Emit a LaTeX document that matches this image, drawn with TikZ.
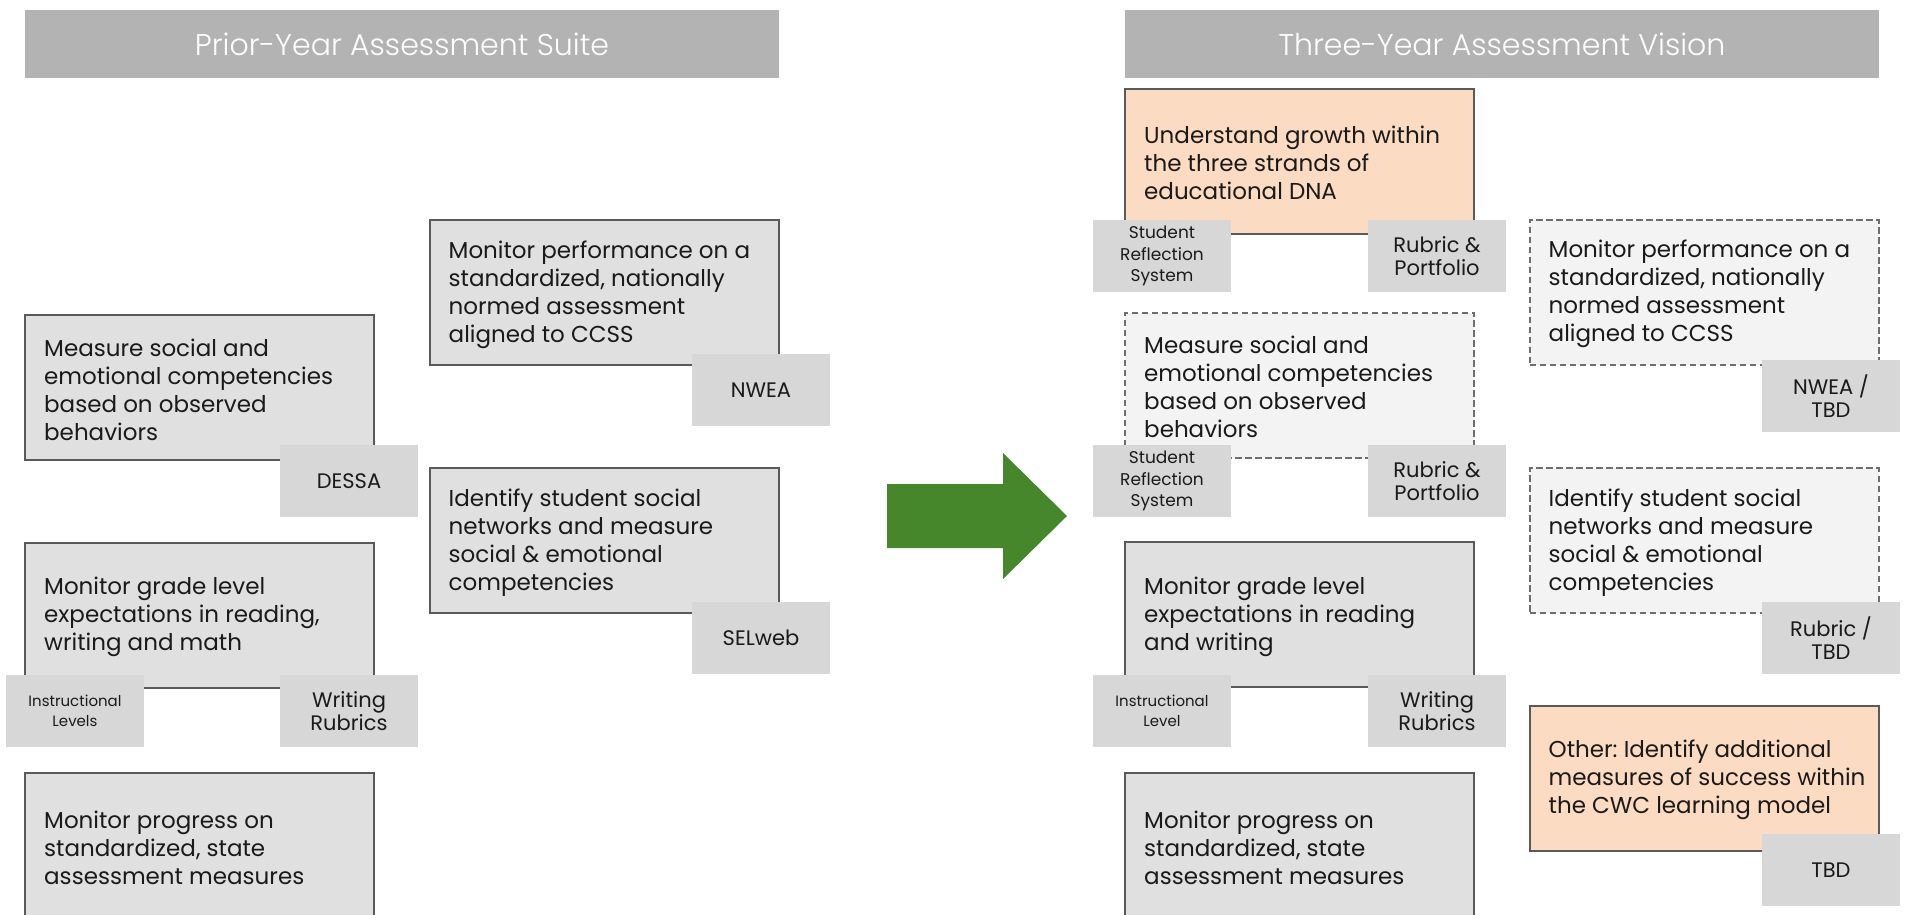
\documentclass[tikz,border=0pt]{standalone}
\usepackage{fontspec}
\setmainfont{Poppins}
\newfontfamily\headfont{Poppins Light}
\frenchspacing
\definecolor{headfill}{HTML}{B3B3B3}
\definecolor{boxfill}{HTML}{E0E0E0}
\definecolor{tagfill}{HTML}{D7D7D7}
\definecolor{dfill}{HTML}{F3F3F3}
\definecolor{peach}{HTML}{FBDBC1}
\definecolor{boxline}{HTML}{5A5A5A}
\definecolor{dline}{HTML}{6E6E6E}
\definecolor{arrowgreen}{HTML}{45872A}
\definecolor{txt}{HTML}{1A1A1A}
\begin{document}
\begin{tikzpicture}[x=1pt,y=-1pt,
  header/.style={rectangle, fill=headfill, minimum width=754pt, minimum height=68pt, inner sep=0pt, text=white, font=\headfont\fontsize{30}{36}\selectfont},
  box/.style={rectangle, draw=boxline, line width=2pt, fill=boxfill, minimum width=349pt, minimum height=145pt, inner sep=0pt},
  dbox/.style={box, draw=dline, line width=2pt, fill=dfill, dash pattern=on 6.5pt off 3.5pt},
  pbox/.style={box, fill=peach},
  btext/.style={anchor=west, inner sep=0pt, align=left, font=\fontsize{23}{28}\selectfont, text=txt},
  tag/.style={rectangle, fill=tagfill, minimum width=138pt, minimum height=72pt, inner sep=1pt, align=center, font=\fontsize{21}{23}\selectfont, text=txt},
  stag/.style={tag, font=\fontsize{17}{21.5}\selectfont},
  xstag/.style={tag, font=\fontsize{15}{19.5}\selectfont}]
\useasboundingbox (0,0) rectangle (1906,914);
% headers
\node[header] (hL) at (402,44) {Prior-Year Assessment Suite};
\node[header] (hR) at (1502,44) {Three-Year Assessment Vision};
% left column
\node[box] (mL) at (199.5,387.5) {};
\node[btext] (mLt) at ([xshift=20pt,yshift=-2pt]mL.west) {Measure social and\\emotional competencies\\based on observed\\behaviors};
\node[box] (pL) at (604,292.5) {};
\node[btext] (pLt) at ([xshift=20pt,yshift=-2pt]pL.west) {Monitor performance on a\\standardized, nationally\\normed assessment\\aligned to CCSS};
\node[box] (iL) at (604,540.5) {};
\node[btext] (iLt) at ([xshift=20pt,yshift=-2pt]iL.west) {Identify student social\\networks and measure\\social \& emotional\\competencies};
\node[box] (gL) at (199.5,615) {};
\node[btext] (gLt) at ([xshift=20pt,yshift=-2pt]gL.west) {Monitor grade level\\expectations in reading,\\writing and math};
\node[box] (sL) at (199.5,845.5) {};
\node[btext] (sLt) at ([xshift=20pt,yshift=-2pt]sL.west) {Monitor progress on\\standardized, state\\assessment measures};
\node[tag] (tDessa) at (349,481) {DESSA};
\node[tag] (tNwea) at (761,390) {NWEA};
\node[tag] (tSel) at (761,638) {SELweb};
\node[xstag] (tIL) at (75,711) {Instructional\\Levels};
\node[tag] (tWR) at (349,711) {Writing\\Rubrics};
% arrow
\fill[arrowgreen] (887,484) -- (1003,484) -- (1003,453) -- (1067,516) -- (1003,579) -- (1003,548) -- (887,548) -- cycle;
% right column
\node[pbox] (uR) at (1299.5,161) {};
\node[btext] (uRt) at ([xshift=20pt,yshift=-2pt]uR.west) {Understand growth within\\the three strands of\\educational DNA};
\node[dbox] (mR) at (1299.5,385) {};
\node[btext] (mRt) at ([xshift=20pt,yshift=-2pt]mR.west) {Measure social and\\emotional competencies\\based on observed\\behaviors};
\node[box] (gR) at (1299.5,614.5) {};
\node[btext] (gRt) at ([xshift=20pt,yshift=-2pt]gR.west) {Monitor grade level\\expectations in reading\\and writing};
\node[box] (sR) at (1299.5,845.5) {};
\node[btext] (sRt) at ([xshift=20pt,yshift=-2pt]sR.west) {Monitor progress on\\standardized, state\\assessment measures};
\node[dbox] (pR) at (1704,292) {};
\node[btext] (pRt) at ([xshift=20pt,yshift=-2pt]pR.west) {Monitor performance on a\\standardized, nationally\\normed assessment\\aligned to CCSS};
\node[dbox] (iR) at (1704,540.5) {};
\node[btext] (iRt) at ([xshift=20pt,yshift=-2pt]iR.west) {Identify student social\\networks and measure\\social \& emotional\\competencies};
\node[pbox] (oR) at (1704,778) {};
\node[btext] (oRt) at ([xshift=20pt,yshift=-2pt]oR.west) {Other: Identify additional\\measures of success within\\the CWC learning model};
\node[stag] (tSRS1) at (1162,256) {Student\\Reflection\\System};
\node[tag] (tRP1) at (1437,256) {Rubric \&\\Portfolio};
\node[stag] (tSRS2) at (1162,481) {Student\\Reflection\\System};
\node[tag] (tRP2) at (1437,481) {Rubric \&\\Portfolio};
\node[xstag] (tIL2) at (1162,711) {Instructional\\Level};
\node[tag] (tWR2) at (1437,711) {Writing\\Rubrics};
\node[tag] (tNT) at (1831,396) {NWEA /\\TBD};
\node[tag] (tRT) at (1831,638) {Rubric /\\TBD};
\node[tag] (tTBD) at (1831,870) {TBD};
\end{tikzpicture}
\end{document}
